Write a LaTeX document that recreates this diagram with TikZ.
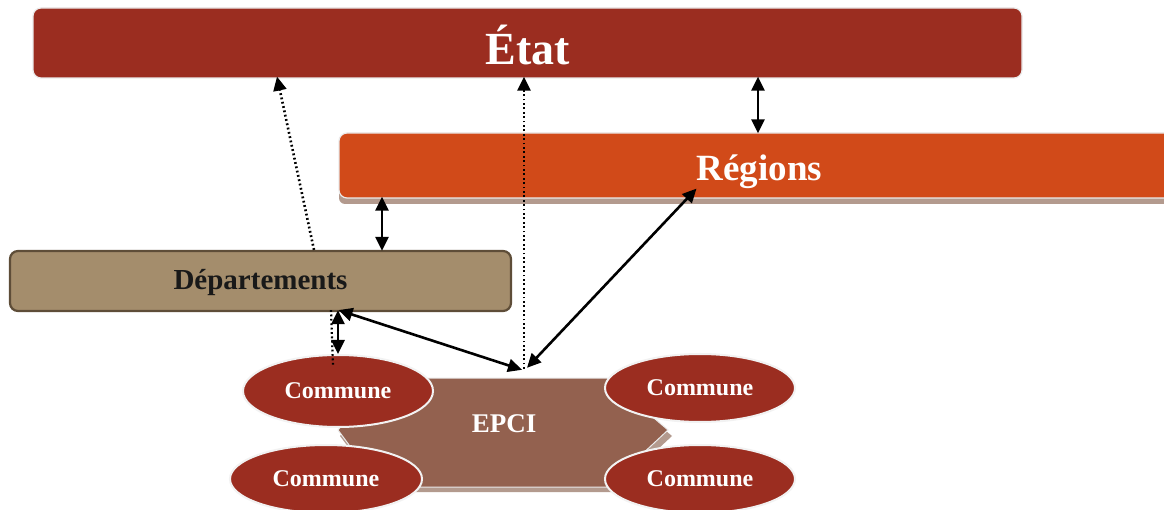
\documentclass[tikz,border=0pt]{standalone}
\usepackage{fontspec}
\setmainfont{Liberation Serif}
\usetikzlibrary{arrows.meta,shapes.geometric,calc}
\definecolor{etatc}{HTML}{9B2D20}
\definecolor{regc}{HTML}{D14A19}
\definecolor{depc}{HTML}{A48D6C}
\definecolor{depb}{HTML}{5E4D38}
\definecolor{epcic}{HTML}{93614F}
\definecolor{shadc}{HTML}{B39A8E}
\newcommand{\lowerby}[2]{\raisebox{-#1}[\height][\depth]{#2}}
\tikzset{
  bar/.style={rounded corners=8pt, draw=white!92!black, line width=1.2pt, inner sep=0pt, text=white},
  commune/.style={ellipse, fill=etatc, draw=white!95!black, line width=2pt, inner sep=0pt, text=white, font=\fontsize{24}{26}\selectfont\bfseries},
  dbl/.style={{Triangle[length=14pt,width=13pt]}-{Triangle[length=14pt,width=13pt]}, line width=2.6pt},
  dots/.style={-{Triangle[length=14pt,width=13pt]}, line width=2.6pt, dash pattern=on 1.8pt off 2.6pt}
}
\begin{document}
\begin{tikzpicture}[x=1pt,y=-1pt]
\useasboundingbox (0,0) rectangle (1164,510);
\fill[white] (0,0) rectangle (1164,510);
% Etat
\node[bar, fill=etatc, minimum width=989pt, minimum height=70pt, font=\fontsize{46}{50}\selectfont\bfseries] (etat) at (527.5,43) {\lowerby{2pt}{État}};
% Regions shadow and box
\fill[shadc, rounded corners=6pt] (339,140) rectangle (1180,204);
\node[bar, fill=regc, minimum width=841pt, minimum height=65pt, font=\fontsize{37}{42}\selectfont\bfseries] (reg) at (759.5,165.5) {\lowerby{6pt}{Régions}};
% Departements
\node[rounded corners=8pt, fill=depc, draw=depb, line width=2.2pt, minimum width=501pt, minimum height=60pt, inner sep=0pt, font=\fontsize{29}{32}\selectfont\bfseries, text=black!90] (dep) at (260.5,281) {\lowerby{2pt}{Départements}};
% EPCI hexagon
\fill[shadc] (382,384) -- (610,384) -- (672,436) -- (612,492) -- (382,492) -- (340,436) -- cycle;
\fill[epcic, draw=white!92!black, line width=1pt] (380,378) -- (607,378) -- (668,430) -- (607,487) -- (380,487) -- (338,430) -- cycle;
\node[minimum width=330pt, minimum height=109pt, inner sep=0pt, text=white, font=\fontsize{27}{30}\selectfont\bfseries] (epci) at (504,423.5) {EPCI};
% Communes
\node[commune, minimum width=190pt, minimum height=72pt] (c1) at (338,391) {Commune};
\node[commune, minimum width=190pt, minimum height=68pt] (c2) at (700,388) {Commune};
\node[commune, minimum width=192pt, minimum height=68pt] (c3) at (326,479) {Commune};
\node[commune, minimum width=190pt, minimum height=68pt] (c4) at (700,479) {Commune};
% connectors
\draw[dots] ([xshift=53.5pt]dep.north) -- ([xshift=-250.5pt,yshift=2pt]etat.south);
\draw[dots] ([xshift=20pt]epci.north) -- ([xshift=-3.5pt,yshift=2pt]etat.south);
\draw[dbl] ([xshift=230.5pt,yshift=2pt]etat.south) -- ([xshift=-1.5pt,yshift=-1pt]reg.north);
\draw[dbl] ([xshift=-377.5pt,yshift=2pt]reg.south) -- ([xshift=121.5pt,yshift=-1pt]dep.north);
\draw[dbl] ([xshift=-63pt,yshift=10pt]reg.south) -- ([xshift=23pt,yshift=1pt]epci.north);
\draw[dbl] ([xshift=78pt,yshift=2pt]dep.south) -- ([xshift=18pt,yshift=-1pt]epci.north);
\draw[line width=2.2pt, dash pattern=on 1.8pt off 2.6pt] ([xshift=70.5pt,yshift=2pt]dep.south) -- ([xshift=-5pt,yshift=-12pt]c1.north);
\draw[dbl] ([xshift=77.5pt,yshift=2pt]dep.south) -- (c1.north);
\end{tikzpicture}
\end{document}
